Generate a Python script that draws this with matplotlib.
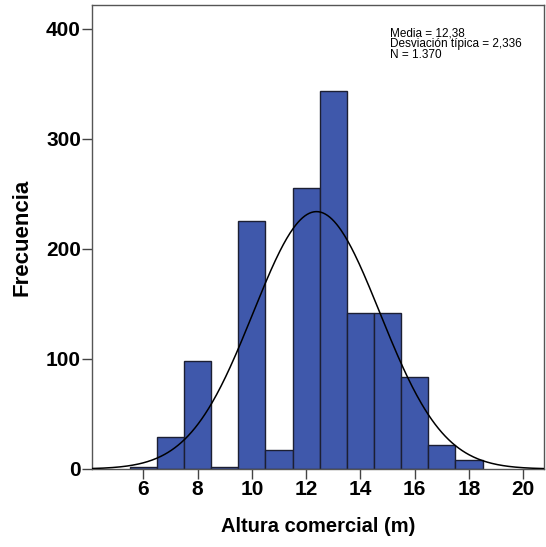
import numpy as np
import matplotlib
matplotlib.use("Agg")
import matplotlib.pyplot as plt

plt.rcParams['font.family'] = ['Liberation Sans', 'DejaVu Sans']

bin_centers = [6, 7, 8, 9, 10, 11, 12, 13, 14, 15, 16, 17, 18]
counts = [2, 29, 98, 2, 225, 17, 255, 344, 142, 142, 84, 22, 8]
mean_val = 12.38
sd_val = 2.336
n_val = 1370
xticks = [6, 8, 10, 12, 14, 16, 18, 20]
yticks = [0, 100, 200, 300, 400]

fig = plt.figure(figsize=(5.46, 5.47), dpi=100)
ax = fig.add_axes([0.1685, 0.1426, 0.9958 - 0.1685, 0.9909 - 0.1426])

ax.bar(bin_centers, counts, width=1.0, align='center', color='#3F58AB',
       edgecolor='#1c1f33', linewidth=1.0, zorder=2)

xmin, xmax = 4.11, 20.75
xs = np.linspace(xmin, xmax, 400)
ys = n_val * 1.0 / (sd_val * np.sqrt(2 * np.pi)) * np.exp(-0.5 * ((xs - mean_val) / sd_val) ** 2)
ax.plot(xs, ys, color='black', linewidth=1.1, zorder=3)

ax.set_xlim(xmin, xmax)
ax.set_ylim(0, 421.8)
ax.set_xticks(xticks)
ax.set_yticks(yticks)
ax.set_xticklabels([str(v) for v in xticks], fontsize=15, fontweight='bold')
ax.set_yticklabels([str(v) for v in yticks], fontsize=15, fontweight='bold')
ax.tick_params(direction='out', length=7, width=1, color='#444444', pad=1)
for s in ax.spines.values():
    s.set_color('#555555')
    s.set_linewidth(1.0)

ax.set_xlabel('Altura comercial (m)', fontsize=14.5, fontweight='bold', labelpad=13)
ax.set_ylabel('Frecuencia', fontsize=16, fontweight='bold', labelpad=10)

ax.text(0.66, 0.952,
        'Media = 12,38\nDesviación típica = 2,336\nN = 1.370',
        transform=ax.transAxes, fontsize=8.5, va='top', ha='left',
        linespacing=0.85)

fig.savefig('out.png', dpi=100)
